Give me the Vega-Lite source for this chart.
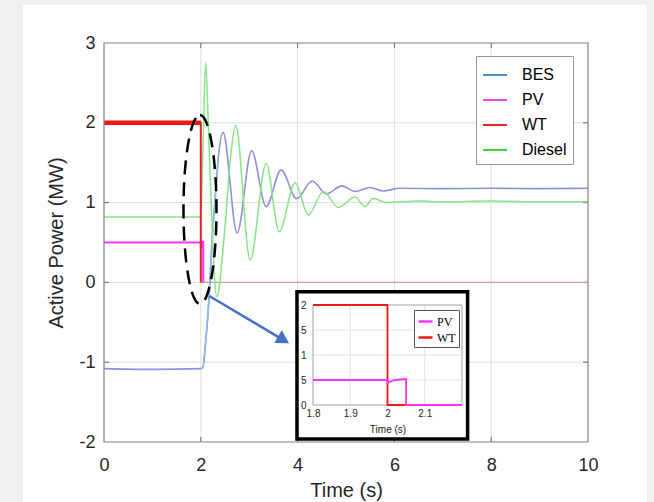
{
  "$schema": "https://vega.github.io/schema/vega-lite/v6.json",
  "width": 484,
  "height": 399,
  "autosize": {"type": "none"},
  "padding": {"left": 104, "top": 43, "right": 66, "bottom": 60},
  "background": "#f0f0f0",
  "config": {"font": "Liberation Sans", "view": {"stroke": null}},
  "datasets": {
    "main": [
      {"series": "BES", "t": 0, "v": -1.08}, {"series": "BES", "t": 1, "v": -1.09}, {"series": "BES", "t": 2.0, "v": -1.08},
      {"series": "BES", "t": 2.04, "v": -1.07}, {"series": "BES", "t": 2.1, "v": -0.75}, {"series": "BES", "t": 2.17, "v": -0.2},
      {"series": "BES", "t": 2.23, "v": 0.5}, {"series": "BES", "t": 2.29, "v": 1.0}, {"series": "BES", "t": 2.36, "v": 1.55},
      {"series": "BES", "t": 2.46, "v": 1.88}, {"series": "BES", "t": 2.75, "v": 0.62}, {"series": "BES", "t": 3.05, "v": 1.65},
      {"series": "BES", "t": 3.35, "v": 0.95}, {"series": "BES", "t": 3.66, "v": 1.41}, {"series": "BES", "t": 3.98, "v": 1.05},
      {"series": "BES", "t": 4.3, "v": 1.27}, {"series": "BES", "t": 4.6, "v": 1.11}, {"series": "BES", "t": 4.91, "v": 1.21},
      {"series": "BES", "t": 5.19, "v": 1.14}, {"series": "BES", "t": 5.5, "v": 1.19}, {"series": "BES", "t": 5.77, "v": 1.145},
      {"series": "BES", "t": 6.1, "v": 1.18}, {"series": "BES", "t": 7, "v": 1.175}, {"series": "BES", "t": 8, "v": 1.18},
      {"series": "BES", "t": 9, "v": 1.175}, {"series": "BES", "t": 10, "v": 1.18},
      {"series": "Diesel", "t": 0, "v": 0.82}, {"series": "Diesel", "t": 1, "v": 0.82}, {"series": "Diesel", "t": 2.0, "v": 0.82},
      {"series": "Diesel", "t": 2.05, "v": 1.8}, {"series": "Diesel", "t": 2.1, "v": 2.76}, {"series": "Diesel", "t": 2.16, "v": 1.9},
      {"series": "Diesel", "t": 2.24, "v": 0.6}, {"series": "Diesel", "t": 2.33, "v": -0.18}, {"series": "Diesel", "t": 2.5, "v": 0.7},
      {"series": "Diesel", "t": 2.62, "v": 1.6}, {"series": "Diesel", "t": 2.72, "v": 1.97}, {"series": "Diesel", "t": 3.02, "v": 0.28},
      {"series": "Diesel", "t": 3.35, "v": 1.49}, {"series": "Diesel", "t": 3.62, "v": 0.635}, {"series": "Diesel", "t": 3.95, "v": 1.25},
      {"series": "Diesel", "t": 4.22, "v": 0.845}, {"series": "Diesel", "t": 4.53, "v": 1.14}, {"series": "Diesel", "t": 4.84, "v": 0.94},
      {"series": "Diesel", "t": 5.19, "v": 1.07}, {"series": "Diesel", "t": 5.39, "v": 0.95}, {"series": "Diesel", "t": 5.56, "v": 1.05},
      {"series": "Diesel", "t": 5.85, "v": 1.0}, {"series": "Diesel", "t": 6.5, "v": 1.02}, {"series": "Diesel", "t": 7, "v": 1.01},
      {"series": "Diesel", "t": 8, "v": 1.02}, {"series": "Diesel", "t": 9, "v": 1.01}, {"series": "Diesel", "t": 10, "v": 1.01},
      {"series": "PV", "t": 0, "v": 0.5}, {"series": "PV", "t": 2.0, "v": 0.5}, {"series": "PV", "t": 2.0, "v": 0.43},
      {"series": "PV", "t": 2.05, "v": 0.52}, {"series": "PV", "t": 2.05, "v": 0}, {"series": "PV", "t": 10, "v": 0},
      {"series": "WT", "t": 0, "v": 2}, {"series": "WT", "t": 2.0, "v": 2}, {"series": "WT", "t": 2.0, "v": 0}, {"series": "WT", "t": 10, "v": 0}
    ],
    "inset": [
      {"series": "WT", "t": 1.8, "v": 2}, {"series": "WT", "t": 2.0, "v": 2}, {"series": "WT", "t": 2.0, "v": 0}, {"series": "WT", "t": 2.2, "v": 0},
      {"series": "PV", "t": 1.8, "v": 0.5}, {"series": "PV", "t": 2.0, "v": 0.5}, {"series": "PV", "t": 2.0, "v": 0.43},
      {"series": "PV", "t": 2.005, "v": 0.46}, {"series": "PV", "t": 2.02, "v": 0.5}, {"series": "PV", "t": 2.05, "v": 0.52},
      {"series": "PV", "t": 2.05, "v": 0}, {"series": "PV", "t": 2.2, "v": 0}
    ],
    "gx": [{"g": 2}, {"g": 4}, {"g": 6}, {"g": 8}],
    "gy": [{"g": -1}, {"g": 0}, {"g": 1}, {"g": 2}]
  },
  "resolve": {
    "scale": {"x": "independent", "y": "independent", "color": "independent"},
    "axis": {"x": "independent", "y": "independent"},
    "legend": {"color": "independent"}
  },
  "layer": [
    {
      "layer": [
        {
          "data": {"values": [{}]},
          "mark": {"type": "rect", "fill": "white", "clip": false},
          "encoding": {
            "x": {"datum": -1.674, "type": "quantitative", "scale": {"domain": [0, 10], "nice": false, "zero": false}},
            "x2": {"datum": 11.22},
            "y": {"datum": 3.48, "type": "quantitative", "scale": {"domain": [-2, 3], "nice": false, "zero": false}},
            "y2": {"datum": -3.2}
          }
        },
        {
          "data": {"name": "gx"},
          "mark": {"type": "rule", "color": "#dedede", "strokeWidth": 1},
          "encoding": {"x": {"field": "g", "type": "quantitative", "scale": {"domain": [0, 10], "nice": false, "zero": false}}}
        },
        {
          "data": {"name": "gy"},
          "mark": {"type": "rule", "color": "#dedede", "strokeWidth": 1},
          "encoding": {"y": {"field": "g", "type": "quantitative", "scale": {"domain": [-2, 3], "nice": false, "zero": false}}}
        },
        {
          "data": {"name": "gx"},
          "mark": {"type": "rule", "color": "#666666", "strokeWidth": 1},
          "encoding": {
            "x": {"field": "g", "type": "quantitative", "scale": {"domain": [0, 10], "nice": false, "zero": false}},
            "y": {"datum": -2, "type": "quantitative", "scale": {"domain": [-2, 3], "nice": false, "zero": false}},
            "y2": {"datum": -1.937}
          }
        },
        {
          "data": {"name": "gx"},
          "mark": {"type": "rule", "color": "#666666", "strokeWidth": 1},
          "encoding": {
            "x": {"field": "g", "type": "quantitative", "scale": {"domain": [0, 10], "nice": false, "zero": false}},
            "y": {"datum": 3, "type": "quantitative", "scale": {"domain": [-2, 3], "nice": false, "zero": false}},
            "y2": {"datum": 2.937}
          }
        },
        {
          "data": {"name": "gy"},
          "mark": {"type": "rule", "color": "#666666", "strokeWidth": 1},
          "encoding": {
            "y": {"field": "g", "type": "quantitative", "scale": {"domain": [-2, 3], "nice": false, "zero": false}},
            "x": {"datum": 0, "type": "quantitative", "scale": {"domain": [0, 10], "nice": false, "zero": false}},
            "x2": {"datum": 0.103}
          }
        },
        {
          "data": {"name": "gy"},
          "mark": {"type": "rule", "color": "#666666", "strokeWidth": 1},
          "encoding": {
            "y": {"field": "g", "type": "quantitative", "scale": {"domain": [-2, 3], "nice": false, "zero": false}},
            "x": {"datum": 10, "type": "quantitative", "scale": {"domain": [0, 10], "nice": false, "zero": false}},
            "x2": {"datum": 9.897}
          }
        },
        {
          "data": {"name": "main"},
          "transform": [{"filter": "datum.series == 'WT' && datum.t >= 2 && datum.v == 0"}],
          "mark": {"type": "line", "color": "#d39a9a", "strokeWidth": 1.2},
          "encoding": {
            "x": {"field": "t", "type": "quantitative", "scale": {"domain": [0, 10], "nice": false, "zero": false}},
            "y": {"field": "v", "type": "quantitative", "scale": {"domain": [-2, 3], "nice": false, "zero": false}},
            "order": {"value": null}
          }
        },
        {
          "data": {"name": "main"},
          "transform": [{"filter": "datum.series == 'BES'"}],
          "mark": {"type": "line", "color": "#8e90e0", "strokeWidth": 1.6, "interpolate": "monotone"},
          "encoding": {
            "x": {
              "field": "t", "type": "quantitative",
              "scale": {"domain": [0, 10], "nice": false, "zero": false},
              "axis": {
                "orient": "bottom", "values": [0, 2, 4, 6, 8, 10], "title": "Time (s)",
                "grid": false, "domain": false, "ticks": false,
                "labelFontSize": 18, "labelColor": "#262626", "labelPadding": 14, "labelFlush": false,
                "titleFontSize": 20, "titleFontWeight": "normal", "titleColor": "#262626", "titlePadding": 6,
                "zindex": 1
              }
            },
            "y": {
              "field": "v", "type": "quantitative",
              "scale": {"domain": [-2, 3], "nice": false, "zero": false},
              "axis": {
                "orient": "left", "values": [-2, -1, 0, 1, 2, 3], "title": "Active Power (MW)",
                "labelExpr": "datum.value < 0 ? '-' + abs(datum.value) : '' + datum.value",
                "grid": false, "domain": false, "ticks": false,
                "labelFontSize": 18, "labelColor": "#262626", "labelPadding": 9, "labelFlush": false,
                "titleFontSize": 20, "titleFontWeight": "normal", "titleColor": "#262626", "titlePadding": 12,
                "zindex": 1
              }
            }
          }
        },
        {
          "data": {"name": "main"},
          "transform": [{"filter": "datum.series == 'BES' && datum.t >= 2.0 && datum.t <= 2.36"}],
          "mark": {"type": "line", "color": "#8cbbe8", "strokeWidth": 1.6, "interpolate": "monotone"},
          "encoding": {
            "x": {"field": "t", "type": "quantitative", "scale": {"domain": [0, 10], "nice": false, "zero": false}},
            "y": {"field": "v", "type": "quantitative", "scale": {"domain": [-2, 3], "nice": false, "zero": false}}
          }
        },
        {
          "data": {"name": "main"},
          "transform": [{"filter": "datum.series == 'Diesel'"}],
          "mark": {"type": "line", "color": "#86e586", "strokeWidth": 1.5, "interpolate": "monotone"},
          "encoding": {
            "x": {"field": "t", "type": "quantitative", "scale": {"domain": [0, 10], "nice": false, "zero": false}},
            "y": {"field": "v", "type": "quantitative", "scale": {"domain": [-2, 3], "nice": false, "zero": false}}
          }
        },
        {
          "data": {"name": "main"},
          "transform": [{"filter": "datum.series == 'PV' && datum.t <= 2.05"}],
          "mark": {"type": "line", "color": "#ff33ff", "strokeWidth": 2},
          "encoding": {
            "x": {"field": "t", "type": "quantitative", "scale": {"domain": [0, 10], "nice": false, "zero": false}},
            "y": {"field": "v", "type": "quantitative", "scale": {"domain": [-2, 3], "nice": false, "zero": false}},
            "order": {"value": null}
          }
        },
        {
          "data": {"name": "main"},
          "transform": [{"filter": "datum.series == 'WT' && datum.t <= 2"}],
          "mark": {"type": "line", "color": "#f02020", "strokeWidth": 2},
          "encoding": {
            "x": {"field": "t", "type": "quantitative", "scale": {"domain": [0, 10], "nice": false, "zero": false}},
            "y": {"field": "v", "type": "quantitative", "scale": {"domain": [-2, 3], "nice": false, "zero": false}},
            "order": {"value": null}
          }
        },
        {
          "data": {"name": "main"},
          "transform": [{"filter": "datum.series == 'WT' && datum.v == 2"}],
          "mark": {"type": "line", "color": "#f51515", "strokeWidth": 4.5},
          "encoding": {
            "x": {"field": "t", "type": "quantitative", "scale": {"domain": [0, 10], "nice": false, "zero": false}},
            "y": {"field": "v", "type": "quantitative", "scale": {"domain": [-2, 3], "nice": false, "zero": false}}
          }
        },
        {
          "data": {"values": [{}]},
          "mark": {"type": "rect", "filled": false, "color": "#808080", "strokeWidth": 1.2},
          "encoding": {
            "x": {"datum": 0, "type": "quantitative", "scale": {"domain": [0, 10], "nice": false, "zero": false}},
            "x2": {"datum": 10},
            "y": {"datum": -2, "type": "quantitative", "scale": {"domain": [-2, 3], "nice": false, "zero": false}},
            "y2": {"datum": 3}
          }
        },
        {
          "data": {"values": [{}]},
          "mark": {"type": "point", "shape": "M0,-1A0.1746,1,0,1,1,0,1A0.1746,1,0,1,1,0,-1Z", "size": 35721, "filled": false, "color": "#000000", "strokeWidth": 2.5, "strokeDash": [14, 8], "opacity": 1},
          "encoding": {
            "x": {"datum": 1.983, "type": "quantitative", "scale": {"domain": [0, 10], "nice": false, "zero": false}},
            "y": {"datum": 0.913, "type": "quantitative", "scale": {"domain": [-2, 3], "nice": false, "zero": false}}
          }
        },
        {
          "data": {"values": [{}]},
          "mark": {"type": "rule", "color": "#4472c4", "strokeWidth": 2.5},
          "encoding": {
            "x": {"datum": 2.176, "type": "quantitative", "scale": {"domain": [0, 10], "nice": false, "zero": false}},
            "x2": {"datum": 3.7},
            "y": {"datum": -0.17, "type": "quantitative", "scale": {"domain": [-2, 3], "nice": false, "zero": false}},
            "y2": {"datum": -0.72}
          }
        },
        {
          "data": {"values": [{}]},
          "mark": {"type": "point", "shape": "triangle-right", "angle": 31, "size": 220, "filled": true, "color": "#4472c4", "opacity": 1},
          "encoding": {
            "x": {"datum": 3.709, "type": "quantitative", "scale": {"domain": [0, 10], "nice": false, "zero": false}},
            "y": {"datum": -0.722, "type": "quantitative", "scale": {"domain": [-2, 3], "nice": false, "zero": false}}
          }
        },
        {
          "data": {"name": "main"},
          "mark": {"type": "point", "opacity": 0},
          "encoding": {
            "color": {
              "field": "series", "type": "nominal",
              "scale": {"domain": ["BES", "PV", "WT", "Diesel"], "range": ["#4a90c0", "#ee44ee", "#ee2222", "#33dd33"]},
              "legend": {
                "title": null, "orient": "none", "legendX": 372, "legendY": 13,
                "fillColor": "white", "strokeColor": "#999999", "padding": 6, "rowPadding": 4,
                "symbolType": "stroke", "symbolSize": 576, "symbolStrokeWidth": 2, "symbolOpacity": 1,
                "labelFontSize": 16, "labelOffset": 14, "labelColor": "#000000", "zindex": 1
              }
            }
          }
        }
      ]
    },
    {
      "layer": [
        {
          "data": {"values": [{}]},
          "mark": {"type": "rect", "fill": "white", "stroke": "#000000", "strokeWidth": 3.5, "clip": false},
          "encoding": {
            "x": {"datum": 1.757, "type": "quantitative", "scale": {"domain": [1.8, 2.2], "range": [209, 358], "nice": false, "zero": false}},
            "x2": {"datum": 2.215},
            "y": {"datum": 2.266, "type": "quantitative", "scale": {"domain": [0, 2], "range": [362, 262], "nice": false, "zero": false}},
            "y2": {"datum": -0.68}
          }
        },
        {
          "data": {"values": [{"g": 1.9}, {"g": 2.0}, {"g": 2.1}]},
          "mark": {"type": "rule", "color": "#e2e2e2", "strokeWidth": 1},
          "encoding": {
            "x": {"field": "g", "type": "quantitative", "scale": {"domain": [1.8, 2.2], "range": [209, 358], "nice": false, "zero": false}},
            "y": {"datum": 0, "type": "quantitative", "scale": {"domain": [0, 2], "range": [362, 262], "nice": false, "zero": false}},
            "y2": {"datum": 2}
          }
        },
        {
          "data": {"values": [{"g": 0.5}, {"g": 1.0}, {"g": 1.5}]},
          "mark": {"type": "rule", "color": "#e2e2e2", "strokeWidth": 1},
          "encoding": {
            "y": {"field": "g", "type": "quantitative", "scale": {"domain": [0, 2], "range": [362, 262], "nice": false, "zero": false}},
            "x": {"datum": 1.8, "type": "quantitative", "scale": {"domain": [1.8, 2.2], "range": [209, 358], "nice": false, "zero": false}},
            "x2": {"datum": 2.2}
          }
        },
        {
          "data": {"values": [{}]},
          "mark": {"type": "rect", "filled": false, "color": "#a0a0a0", "strokeWidth": 1},
          "encoding": {
            "x": {"datum": 1.8, "type": "quantitative", "scale": {"domain": [1.8, 2.2], "range": [209, 358], "nice": false, "zero": false}},
            "x2": {"datum": 2.2},
            "y": {"datum": 0, "type": "quantitative", "scale": {"domain": [0, 2], "range": [362, 262], "nice": false, "zero": false}},
            "y2": {"datum": 2}
          }
        },
        {
          "data": {"name": "inset"},
          "mark": {"type": "line", "strokeWidth": 1.8},
          "encoding": {
            "x": {
              "field": "t", "type": "quantitative",
              "scale": {"domain": [1.8, 2.2], "range": [209, 358], "nice": false, "zero": false},
              "axis": {
                "orient": "bottom", "offset": -37, "values": [1.8, 1.9, 2, 2.1], "format": "~g", "title": "Time (s)",
                "grid": false, "domain": false, "ticks": false, "labelFlush": false,
                "labelFontSize": 10, "labelColor": "#262626", "labelPadding": 3,
                "titleFontSize": 10, "titleFontWeight": "normal", "titleColor": "#262626", "titlePadding": 6,
                "zindex": 1
              }
            },
            "y": {
              "field": "v", "type": "quantitative",
              "scale": {"domain": [0, 2], "range": [362, 262], "nice": false, "zero": false},
              "axis": {
                "orient": "left", "offset": -209, "values": [0, 0.5, 1, 1.5, 2],
                "labelExpr": "datum.value == 0.5 || datum.value == 1.5 ? '5' : format(datum.value, '~g')",
                "title": "", "grid": false, "domain": false, "ticks": false, "labelFlush": false,
                "labelFontSize": 10, "labelColor": "#262626", "labelPadding": 7,
                "zindex": 1
              }
            },
            "color": {
              "field": "series", "type": "nominal",
              "scale": {"domain": ["PV", "WT"], "range": ["#ff33ff", "#f01818"]},
              "legend": {
                "title": null, "orient": "none", "legendX": 310, "legendY": 267,
                "fillColor": "white", "strokeColor": "#555555", "padding": 3, "rowPadding": 1,
                "symbolType": "stroke", "symbolSize": 196, "symbolStrokeWidth": 2.5,
                "labelFont": "Liberation Serif", "labelFontSize": 12, "labelOffset": 3, "labelColor": "#000000", "zindex": 1
              }
            },
            "order": {"value": null}
          }
        }
      ]
    }
  ]
}
